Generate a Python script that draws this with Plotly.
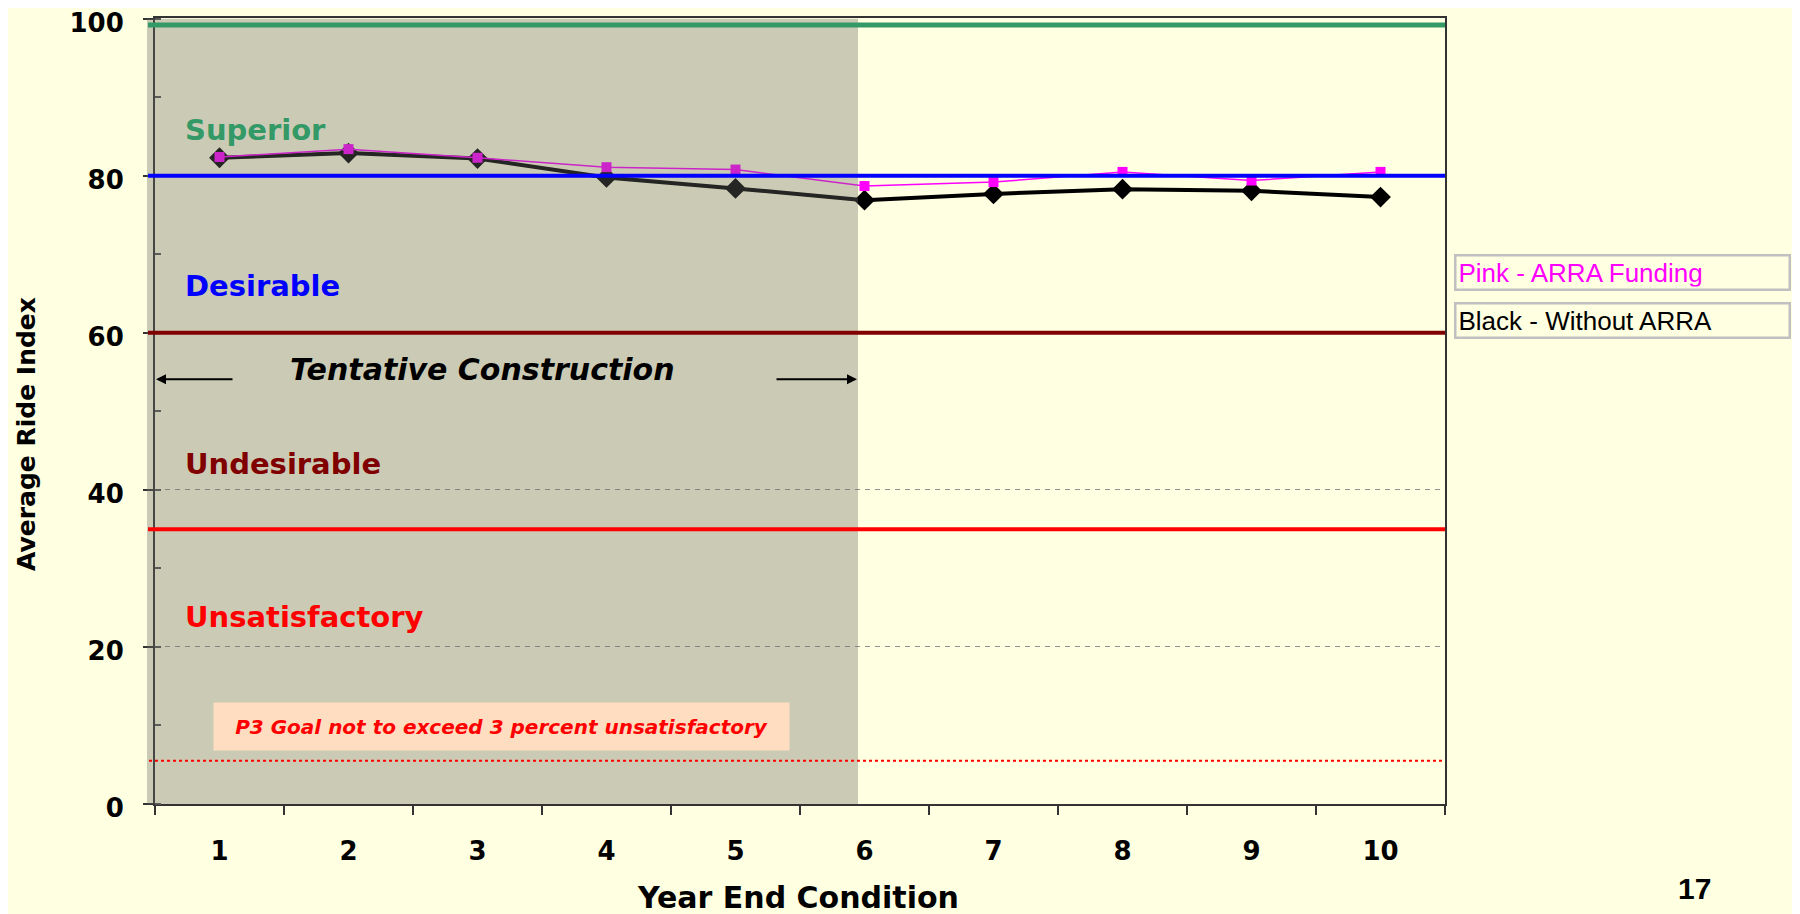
import plotly.graph_objects as go

# ---------------- data ----------------
years = ["1", "2", "3", "4", "5", "6", "7", "8", "9", "10"]
without_arra = [82.3, 82.9, 82.2, 79.8, 78.4, 76.9, 77.7, 78.3, 78.1, 77.3]
with_arra = [82.4, 83.4, 82.3, 81.1, 80.8, 78.7, 79.2, 80.5, 79.4, 80.5]

y_ticks = [0, 20, 40, 60, 80, 100]
band_labels = ["Superior", "Desirable", "Undesirable", "Unsatisfactory"]
threshold_values = [99.2, 80, 60, 35]
goal_value = 5.5

# ---------------- style / geometry (viewport pixels) ----------------
BG = "#FFFFE1"
FONT = "DejaVu Sans"
OFF = 8                      # page body margin
VW, VH = 1800, 914           # viewport
PLOT_L, PLOT_R, PLOT_T, PLOT_B = 155, 1445, 18, 804
W, H = VW - OFF, VH - OFF
L = PLOT_L - OFF
T = PLOT_T - OFF
R = W - (PLOT_R - OFF)
B = H - (PLOT_B - OFF)
PW, PH = PLOT_R - PLOT_L, PLOT_B - PLOT_T


def px_x(px):
    return (px - PLOT_L) / PW


def px_y(py):
    return (PLOT_B - py) / PH


fig = go.Figure()

fig.add_trace(go.Scatter(
    x=years, y=without_arra, mode="lines+markers", name="Black - Without ARRA",
    line=dict(color="black", width=4),
    marker=dict(symbol="diamond", size=16, color="black"),
    showlegend=False,
))
fig.add_trace(go.Scatter(
    x=years, y=with_arra, mode="lines+markers", name="Pink - ARRA Funding",
    line=dict(color="#FF00FF", width=1.5),
    marker=dict(symbol="square", size=10, color="#FF00FF"),
    showlegend=False,
))

shapes = []
# tentative construction shaded band (drawn over the series)
shapes.append(dict(type="rect", xref="paper", yref="y", x0=px_x(147), x1=px_x(858),
                   y0=0, y1=100, fillcolor="rgba(105,105,100,0.35)", line_width=0,
                   layer="above"))
# threshold lines
line_colors = ["#339966", "#0000FF", "#800000", "#FF0000"]
line_widths = [5, 4, 4, 4]
for v, c, w in zip(threshold_values, line_colors, line_widths):
    shapes.append(dict(type="line", xref="paper", yref="y", x0=px_x(148), x1=1.0,
                       y0=v, y1=v, line=dict(color=c, width=w), layer="above"))
shapes.append(dict(type="line", xref="paper", yref="y", x0=px_x(149), x1=1.0,
                   y0=goal_value, y1=goal_value,
                   line=dict(color="#FF0000", width=2, dash="dot"), layer="above"))

annotations = []
label_colors = ["#339966", "#0000FF", "#800000", "#FF0000"]
label_y = [85.9, 66.0, 43.3, 23.8]
for t, c, yv in zip(band_labels, label_colors, label_y):
    annotations.append(dict(text=t, xref="paper", yref="y", x=px_x(183), y=yv,
                            xanchor="left", yanchor="middle", showarrow=False,
                            font=dict(family=FONT, size=29, color=c, weight="bold")))

annotations.append(dict(text="Tentative Construction", xref="paper", yref="y",
                        x=px_x(288), y=55.35, xanchor="left", yanchor="middle",
                        showarrow=False,
                        font=dict(family=FONT, size=30, color="black", weight="bold",
                                  style="italic")))
# arrows
annotations.append(dict(text="", xref="paper", yref="y", x=px_x(156), y=54.1,
                        ax=78, ay=0, showarrow=True, arrowhead=2, arrowsize=1,
                        arrowwidth=2, arrowcolor="black"))
annotations.append(dict(text="", xref="paper", yref="y", x=px_x(857), y=54.1,
                        ax=-82, ay=0, showarrow=True, arrowhead=2, arrowsize=1,
                        arrowwidth=2, arrowcolor="black"))
# goal box
annotations.append(dict(text="P3 Goal not to exceed 3 percent unsatisfactory",
                        xref="paper", yref="y", x=px_x(501), y=9.9,
                        xanchor="center", yanchor="middle", showarrow=False,
                        width=575, height=47, borderpad=0, bgcolor="#FEDDC0",
                        font=dict(family=FONT, size=20, color="#FF0000", weight="bold",
                                  style="italic")))
# legend boxes
annotations.append(dict(text="Pink - ARRA Funding", xref="paper", yref="paper",
                        x=px_x(1454), y=px_y(272), xanchor="left", yanchor="middle",
                        showarrow=False, align="left", width=328, height=28,
                        borderpad=2, borderwidth=2.5, bordercolor="#C0C0C0",
                        bgcolor=BG,
                        font=dict(family="Liberation Sans", size=26, color="#FF00FF")))
annotations.append(dict(text="Black - Without ARRA", xref="paper", yref="paper",
                        x=px_x(1454), y=px_y(320), xanchor="left", yanchor="middle",
                        showarrow=False, align="left", width=328, height=28,
                        borderpad=2, borderwidth=2.5, bordercolor="#C0C0C0",
                        bgcolor=BG,
                        font=dict(family="Liberation Sans", size=26, color="black")))
# axis titles
annotations.append(dict(text="Average Ride Index", xref="paper", yref="paper",
                        x=px_x(26), y=px_y(434), xanchor="center", yanchor="middle",
                        textangle=-90, showarrow=False,
                        font=dict(family=FONT, size=25, color="black", weight="bold")))
annotations.append(dict(text="Year End Condition", xref="paper", yref="paper",
                        x=px_x(798), y=px_y(897), xanchor="center", yanchor="middle",
                        showarrow=False,
                        font=dict(family=FONT, size=30, color="black", weight="bold")))
annotations.append(dict(text="17", xref="paper", yref="paper",
                        x=px_x(1694), y=px_y(888), xanchor="center", yanchor="middle",
                        showarrow=False,
                        font=dict(family="Liberation Sans", size=30, color="black",
                                  weight="bold")))

fig.update_layout(
    width=W, height=H,
    margin=dict(l=L, r=R, t=T, b=B, pad=0, autoexpand=False),
    paper_bgcolor=BG, plot_bgcolor=BG,
    shapes=shapes, annotations=annotations,
    showlegend=False,
)
fig.update_xaxes(
    type="category", categoryorder="array", categoryarray=years,
    range=[-0.5, 9.5], tickson="boundaries", automargin=False,
    ticks="outside", ticklen=9, tickwidth=1.5, tickcolor="#333333",
    showgrid=False, showline=True, linecolor="#333333", linewidth=2, mirror=True,
    tickfont=dict(family=FONT, size=26, color="black", weight="bold"),
    ticklabelstandoff=23, ticklabeloverflow="allow",
)
fig.update_yaxes(
    range=[0, 100.1], tickmode="array", tickvals=y_ticks, automargin=False,
    ticks="outside", ticklen=10, tickwidth=1.5, tickcolor="#333333",
    minor=dict(tickmode="linear", tick0=0, dtick=10, ticks="inside", ticklen=6,
               tickcolor="#555555", showgrid=False),
    showgrid=True, gridcolor="#909090", gridwidth=1, griddash="5px,5px",
    zeroline=False,
    showline=True, linecolor="#333333", linewidth=2, mirror=True,
    tickfont=dict(family=FONT, size=26, color="black", weight="bold"),
    ticklabelstandoff=14, ticklabelshift=4, ticklabeloverflow="allow",
)

fig.write_html("out.html")
